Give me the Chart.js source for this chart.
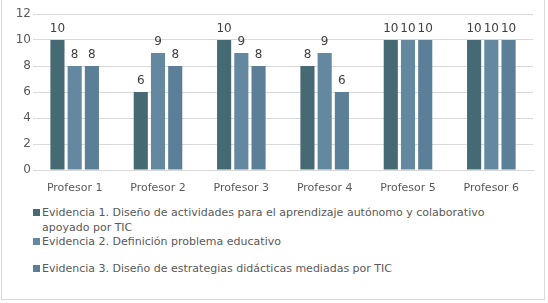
<!DOCTYPE html>
<html>
<head>
<meta charset="utf-8">
<script src="https://cdn.jsdelivr.net/npm/chart.js@4"></script>
<style>
  html, body { margin: 0; padding: 0; background: #ffffff; }
  #frame {
    position: absolute; left: 1px; top: 0px; width: 544px; height: 300px;
    border: 1px solid #d9d9d9; border-top: none; box-sizing: border-box;
  }
  #wrap { position: absolute; left: 0; top: 0; width: 548px; height: 200px; }
  #legend {
    position: absolute; left: 33px; top: 205px;
    font-family: "DejaVu Sans", sans-serif; font-size: 11px; color: #595959;
    white-space: nowrap;
  }
  .item { position: absolute; left: 0; display: flex; align-items: flex-start; }
  .sq { width: 7px; height: 7px; margin-top: 4px; margin-right: 2px; flex: none; }
  .txt { line-height: 15px; }
</style>
</head>
<body>
<div id="frame"></div>
<div id="wrap"><canvas id="barChart"></canvas></div>
<div id="legend"></div>
<script>
const categories = ["Profesor 1", "Profesor 2", "Profesor 3", "Profesor 4", "Profesor 5", "Profesor 6"];
const seriesNames = [
  ["Evidencia 1. Diseño de actividades para el aprendizaje autónomo y colaborativo", "apoyado por TIC"],
  ["Evidencia 2.  Definición problema educativo"],
  ["Evidencia 3. Diseño de estrategias didácticas mediadas por TIC"],
];
const evidencia1 = [10, 6, 10, 8, 10, 10];
const evidencia2 = [8, 9, 9, 9, 10, 10];
const evidencia3 = [8, 8, 8, 6, 10, 10];
const yTicks = [0, 2, 4, 6, 8, 10, 12];
const colors = ["#466a74", "#6488a0", "#5b7f96"];
const legendTops = [0, 29, 56];

function renderLegend() {
  const box = document.getElementById("legend");
  box.innerHTML = seriesNames
    .map(
      (lines, i) => `
    <div class="item" style="top:${legendTops[i]}px">
      <div class="sq" style="background:${colors[i]}"></div>
      <div class="txt">${lines.join("<br>")}</div>
    </div>`,
    )
    .join("");
}

const valueLabels = {
  id: "valueLabels",
  afterDatasetsDraw(chart) {
    const ctx = chart.ctx;
    ctx.save();
    ctx.font = "12px 'DejaVu Sans', sans-serif";
    ctx.fillStyle = "#404040";
    ctx.textAlign = "center";
    ctx.textBaseline = "bottom";
    chart.data.datasets.forEach((ds, i) => {
      chart.getDatasetMeta(i).data.forEach((bar, j) => {
        ctx.fillText(String(ds.data[j]), bar.x, bar.y - 5);
      });
    });
    ctx.restore();
  },
};

function initChart() {
  Chart.defaults.font.family = "'DejaVu Sans', sans-serif";
  Chart.defaults.font.size = 11;
  Chart.defaults.color = "#595959";

  const ctx = document.getElementById("barChart").getContext("2d");
  const data = [evidencia1, evidencia2, evidencia3];
  new Chart(ctx, {
    type: "bar",
    data: {
      labels: categories,
      datasets: data.map((values, i) => ({
        label: seriesNames[i].join(" "),
        data: values,
        backgroundColor: colors[i],
        barPercentage: 0.82,
        categoryPercentage: 0.62,
      })),
    },
    options: {
      responsive: true,
      maintainAspectRatio: false,
      animation: false,
      layout: { padding: { top: 14, right: 15, left: 0, bottom: 0 } },
      plugins: {
        legend: { display: false },
        tooltip: { enabled: false },
      },
      scales: {
        y: {
          min: 0,
          max: 12,
          afterBuildTicks: (scale) => {
            scale.ticks = yTicks.map((v) => ({ value: v }));
          },
          afterFit: (scale) => {
            scale.width = 33;
          },
          ticks: { padding: 2, font: { size: 12 } },
          border: { display: false },
          grid: { color: "#d9d9d9", drawTicks: false },
        },
        x: {
          afterFit: (scale) => {
            scale.height = 30;
          },
          ticks: { padding: 4, font: { size: 11 } },
          grid: { display: false },
          border: { color: "#d9d9d9" },
        },
      },
    },
    plugins: [valueLabels],
  });
}

document.addEventListener("DOMContentLoaded", function () {
  renderLegend();
  initChart();
});
</script>
</body>
</html>
